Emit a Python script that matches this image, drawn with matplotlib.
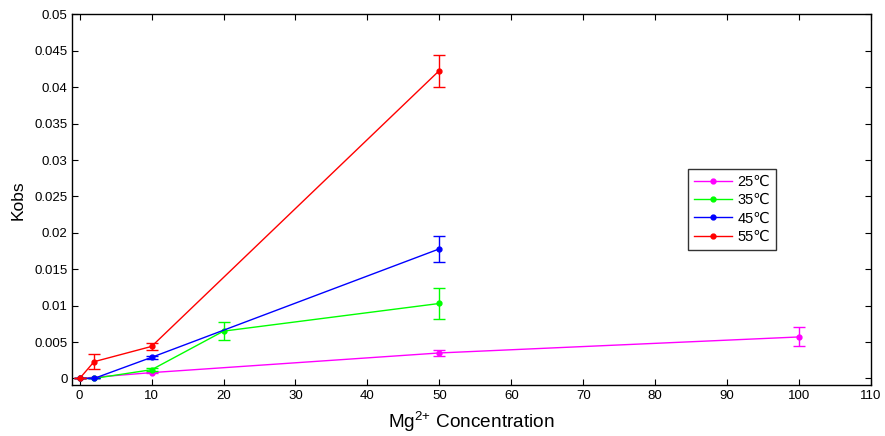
"""Kobs vs Mg2+ concentration at four temperatures."""
import matplotlib
matplotlib.use("Agg")
import matplotlib.pyplot as plt
from matplotlib.ticker import FuncFormatter

plt.rcParams["font.family"] = ["Liberation Sans", "DejaVu Sans"]
plt.rcParams["mathtext.fontset"] = "custom"
plt.rcParams["mathtext.rm"] = "Liberation Sans"
plt.rcParams["mathtext.default"] = "regular"

labels = ["25\u2103", "35\u2103", "45\u2103", "55\u2103"]
colors = ["#ff00ff", "#00ff00", "#0000ff", "#ff0000"]

x25 = [0, 10, 50, 100]
y25 = [0, 0.0008, 0.0035, 0.0057]
e25 = [0, 0.0001, 0.0004, 0.0013]

x35 = [0, 2, 10, 20, 50]
y35 = [0, 0.0, 0.0012, 0.0065, 0.0103]
e35 = [0, 0, 0.0002, 0.0012, 0.0021]

x45 = [0, 2, 10, 50]
y45 = [0, 0.0, 0.0029, 0.0178]
e45 = [0, 0, 0.0002, 0.0018]

x55 = [0, 2, 10, 50]
y55 = [0, 0.0023, 0.0044, 0.0423]
e55 = [0, 0.001, 0.0005, 0.0022]

series = [(x25, y25, e25), (x35, y35, e35), (x45, y45, e45), (x55, y55, e55)]

fig = plt.figure(figsize=(8.85, 4.36), dpi=100)
ax = fig.add_axes([0.0819, 0.117, 0.9023, 0.8498])

handles = []
for (xs, ys, es), c, lab in zip(series, colors, labels):
    ax.errorbar(xs, ys, yerr=es, color=c, lw=1, capsize=4, capthick=1,
                elinewidth=1, fmt="none")
    h, = ax.plot(xs, ys, color=c, lw=1, marker="o", ms=3.5, label=lab)
    handles.append(h)

ax.set_xlim(-1, 110)
ax.set_ylim(-0.0009, 0.05)
ax.set_xticks(range(0, 111, 10))
ax.set_yticks([i * 0.005 for i in range(11)])
ax.yaxis.set_major_formatter(FuncFormatter(lambda v, p: f"{v:g}"))
ax.tick_params(direction="in", top=True, right=True, labelsize=9.5, length=4)
for s in ax.spines.values():
    s.set_linewidth(1)

ax.set_xlabel("Mg$^{2{+}}$ Concentration", fontsize=13.7, labelpad=6)
ax.set_ylabel("Kobs", fontsize=12.5, labelpad=6)

leg = ax.legend(handles=handles, loc="upper left", bbox_to_anchor=(0.771, 0.583),
                fontsize=10.5, frameon=True, fancybox=False, handlelength=2.6,
                handletextpad=0.4, borderpad=0.4, labelspacing=0.3,
                borderaxespad=0)
leg.get_frame().set_edgecolor("black")
leg.get_frame().set_linewidth(1)

plt.savefig("out.png", dpi=100)
